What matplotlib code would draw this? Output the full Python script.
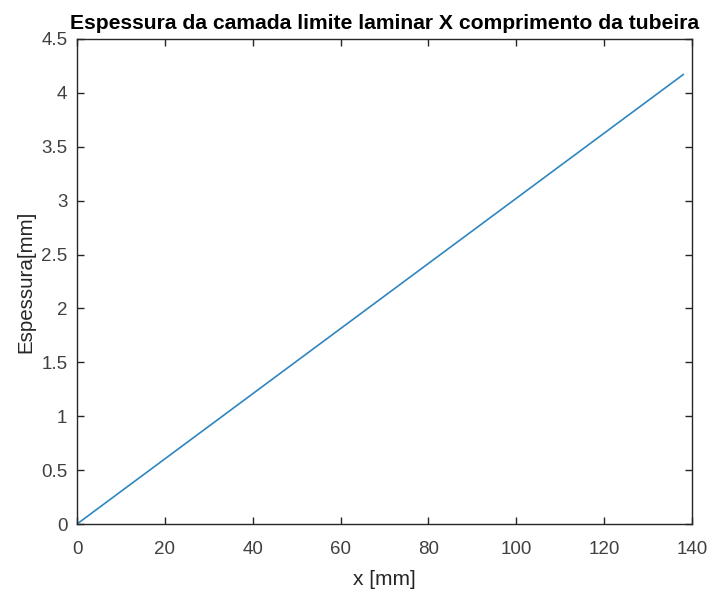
import matplotlib
matplotlib.use('Agg')
import matplotlib.pyplot as plt

# boundary layer thickness along the nozzle
x_mm = [0, 138]
espessura_mm = [0, 4.17]

xticks = [0, 20, 40, 60, 80, 100, 120, 140]
yticks = [0, 0.5, 1, 1.5, 2, 2.5, 3, 3.5, 4, 4.5]

plt.rcParams['font.family'] = ['Liberation Sans', 'DejaVu Sans']

fig = plt.figure(figsize=(7.11, 5.95), dpi=100)
ax = fig.add_axes([0.1083, 0.1193, 0.865, 0.8152])

ax.plot(x_mm, espessura_mm, color='#2f86c0', lw=1.2)

ax.set_xlim(0, 140)
ax.set_ylim(0, 4.5)
ax.set_xticks(xticks)
ax.set_yticks(yticks)
ax.set_yticklabels(['0', '0.5', '1', '1.5', '2', '2.5', '3', '3.5', '4', '4.5'])

ax.tick_params(direction='in', top=True, right=True, length=5, width=1,
               colors='#262626', labelcolor='#404040', labelsize=13.5)
ax.tick_params(axis='x', pad=12)
ax.tick_params(axis='y', pad=7)
for s in ax.spines.values():
    s.set_color('#262626')
    s.set_linewidth(1)

ax.set_title('Espessura da camada limite laminar X comprimento da tubeira',
             fontsize=15.2, fontweight='bold', color='black', pad=7)
ax.set_xlabel('x [mm]', fontsize=15, color='#262626', labelpad=9)
ax.set_ylabel('Espessura[mm]', fontsize=14.8, color='#262626', labelpad=4)

fig.savefig('out.png', dpi=100)
